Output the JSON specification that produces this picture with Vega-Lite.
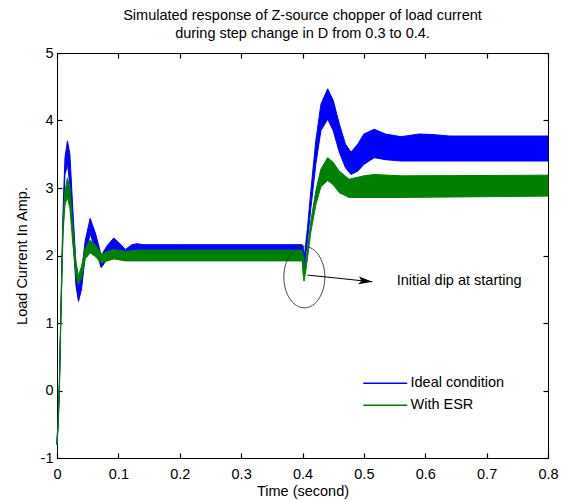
{
  "$schema": "https://vega.github.io/schema/vega-lite/v6.json",
  "autosize": {"type": "none"},
  "padding": {"left": 57, "top": 53, "right": 18, "bottom": 44},
  "width": 491,
  "height": 405,
  "background": "white",
  "title": {
    "text": ["Simulated response of Z-source chopper of load current", "during step change in D from 0.3 to 0.4."],
    "font": "Liberation Sans",
    "fontSize": 14.5,
    "fontWeight": "normal",
    "color": "black",
    "anchor": "middle",
    "lineHeight": 18.3,
    "offset": 3
  },
  "datasets": {
    "current": [
      {"t": 0, "series": "Ideal condition", "lo": -0.80, "hi": -0.74},
      {"t": 0.002, "series": "Ideal condition", "lo": -0.50, "hi": -0.42},
      {"t": 0.004, "series": "Ideal condition", "lo": 0.05, "hi": 0.15},
      {"t": 0.006, "series": "Ideal condition", "lo": 0.95, "hi": 1.05},
      {"t": 0.008, "series": "Ideal condition", "lo": 1.75, "hi": 1.90},
      {"t": 0.010, "series": "Ideal condition", "lo": 2.50, "hi": 2.70},
      {"t": 0.013, "series": "Ideal condition", "lo": 3.20, "hi": 3.45},
      {"t": 0.017, "series": "Ideal condition", "lo": 3.35, "hi": 3.70},
      {"t": 0.021, "series": "Ideal condition", "lo": 3.05, "hi": 3.50},
      {"t": 0.026, "series": "Ideal condition", "lo": 2.25, "hi": 2.65},
      {"t": 0.031, "series": "Ideal condition", "lo": 1.55, "hi": 1.85},
      {"t": 0.035, "series": "Ideal condition", "lo": 1.32, "hi": 1.52},
      {"t": 0.040, "series": "Ideal condition", "lo": 1.50, "hi": 1.75},
      {"t": 0.046, "series": "Ideal condition", "lo": 2.00, "hi": 2.22},
      {"t": 0.054, "series": "Ideal condition", "lo": 2.32, "hi": 2.55},
      {"t": 0.063, "series": "Ideal condition", "lo": 2.08, "hi": 2.32},
      {"t": 0.072, "series": "Ideal condition", "lo": 1.82, "hi": 2.00},
      {"t": 0.082, "series": "Ideal condition", "lo": 1.95, "hi": 2.15},
      {"t": 0.0925, "series": "Ideal condition", "lo": 2.05, "hi": 2.26},
      {"t": 0.102, "series": "Ideal condition", "lo": 2.00, "hi": 2.18},
      {"t": 0.1115, "series": "Ideal condition", "lo": 1.98, "hi": 2.09},
      {"t": 0.122, "series": "Ideal condition", "lo": 1.98, "hi": 2.16},
      {"t": 0.13, "series": "Ideal condition", "lo": 1.98, "hi": 2.175},
      {"t": 0.14, "series": "Ideal condition", "lo": 1.98, "hi": 2.16},
      {"t": 0.2, "series": "Ideal condition", "lo": 1.98, "hi": 2.16},
      {"t": 0.3, "series": "Ideal condition", "lo": 1.98, "hi": 2.16},
      {"t": 0.3995, "series": "Ideal condition", "lo": 1.98, "hi": 2.16},
      {"t": 0.401, "series": "Ideal condition", "lo": 1.85, "hi": 2.14},
      {"t": 0.4025, "series": "Ideal condition", "lo": 1.78, "hi": 1.95},
      {"t": 0.405, "series": "Ideal condition", "lo": 2.00, "hi": 2.15},
      {"t": 0.408, "series": "Ideal condition", "lo": 2.20, "hi": 2.40},
      {"t": 0.4136, "series": "Ideal condition", "lo": 2.70, "hi": 2.96},
      {"t": 0.4217, "series": "Ideal condition", "lo": 3.35, "hi": 3.70},
      {"t": 0.43, "series": "Ideal condition", "lo": 3.85, "hi": 4.24},
      {"t": 0.441, "series": "Ideal condition", "lo": 4.02, "hi": 4.47},
      {"t": 0.45, "series": "Ideal condition", "lo": 3.85, "hi": 4.30},
      {"t": 0.46, "series": "Ideal condition", "lo": 3.53, "hi": 3.95},
      {"t": 0.47, "series": "Ideal condition", "lo": 3.30, "hi": 3.65},
      {"t": 0.479, "series": "Ideal condition", "lo": 3.20, "hi": 3.53},
      {"t": 0.49, "series": "Ideal condition", "lo": 3.25, "hi": 3.65},
      {"t": 0.50, "series": "Ideal condition", "lo": 3.35, "hi": 3.80},
      {"t": 0.517, "series": "Ideal condition", "lo": 3.45, "hi": 3.87},
      {"t": 0.535, "series": "Ideal condition", "lo": 3.42, "hi": 3.80},
      {"t": 0.5605, "series": "Ideal condition", "lo": 3.40, "hi": 3.76},
      {"t": 0.59, "series": "Ideal condition", "lo": 3.40, "hi": 3.80},
      {"t": 0.615, "series": "Ideal condition", "lo": 3.40, "hi": 3.79},
      {"t": 0.64, "series": "Ideal condition", "lo": 3.40, "hi": 3.77},
      {"t": 0.8, "series": "Ideal condition", "lo": 3.40, "hi": 3.77},

      {"t": 0, "series": "With ESR", "lo": -0.80, "hi": -0.72},
      {"t": 0.002, "series": "With ESR", "lo": -0.50, "hi": -0.40},
      {"t": 0.004, "series": "With ESR", "lo": 0.05, "hi": 0.18},
      {"t": 0.006, "series": "With ESR", "lo": 0.95, "hi": 1.08},
      {"t": 0.008, "series": "With ESR", "lo": 1.70, "hi": 1.90},
      {"t": 0.010, "series": "With ESR", "lo": 2.35, "hi": 2.55},
      {"t": 0.013, "series": "With ESR", "lo": 2.75, "hi": 2.95},
      {"t": 0.017, "series": "With ESR", "lo": 2.86, "hi": 3.15},
      {"t": 0.021, "series": "With ESR", "lo": 2.70, "hi": 3.00},
      {"t": 0.026, "series": "With ESR", "lo": 2.15, "hi": 2.40},
      {"t": 0.031, "series": "With ESR", "lo": 1.72, "hi": 1.90},
      {"t": 0.035, "series": "With ESR", "lo": 1.57, "hi": 1.70},
      {"t": 0.040, "series": "With ESR", "lo": 1.68, "hi": 1.84},
      {"t": 0.046, "series": "With ESR", "lo": 1.95, "hi": 2.10},
      {"t": 0.054, "series": "With ESR", "lo": 2.04, "hi": 2.23},
      {"t": 0.063, "series": "With ESR", "lo": 1.98, "hi": 2.15},
      {"t": 0.072, "series": "With ESR", "lo": 1.89, "hi": 2.02},
      {"t": 0.082, "series": "With ESR", "lo": 1.92, "hi": 2.06},
      {"t": 0.0925, "series": "With ESR", "lo": 1.95, "hi": 2.09},
      {"t": 0.1115, "series": "With ESR", "lo": 1.92, "hi": 2.06},
      {"t": 0.13, "series": "With ESR", "lo": 1.92, "hi": 2.08},
      {"t": 0.2, "series": "With ESR", "lo": 1.92, "hi": 2.08},
      {"t": 0.3, "series": "With ESR", "lo": 1.92, "hi": 2.08},
      {"t": 0.3995, "series": "With ESR", "lo": 1.92, "hi": 2.08},
      {"t": 0.401, "series": "With ESR", "lo": 1.72, "hi": 2.00},
      {"t": 0.4025, "series": "With ESR", "lo": 1.62, "hi": 1.75},
      {"t": 0.405, "series": "With ESR", "lo": 1.75, "hi": 1.92},
      {"t": 0.408, "series": "With ESR", "lo": 1.95, "hi": 2.08},
      {"t": 0.4136, "series": "With ESR", "lo": 2.35, "hi": 2.51},
      {"t": 0.4217, "series": "With ESR", "lo": 2.75, "hi": 2.96},
      {"t": 0.43, "series": "With ESR", "lo": 3.02, "hi": 3.28},
      {"t": 0.441, "series": "With ESR", "lo": 3.11, "hi": 3.45},
      {"t": 0.45, "series": "With ESR", "lo": 3.05, "hi": 3.38},
      {"t": 0.46, "series": "With ESR", "lo": 2.93, "hi": 3.25},
      {"t": 0.476, "series": "With ESR", "lo": 2.86, "hi": 3.13},
      {"t": 0.50, "series": "With ESR", "lo": 2.86, "hi": 3.18},
      {"t": 0.517, "series": "With ESR", "lo": 2.86, "hi": 3.20},
      {"t": 0.5605, "series": "With ESR", "lo": 2.86, "hi": 3.18},
      {"t": 0.8, "series": "With ESR", "lo": 2.88, "hi": 3.19}
    ],
    "dip": [{"t": 0.403, "v": 1.68}],
    "arrow": [{"t": 0.408, "v": 1.71, "t2": 0.514, "v2": 1.61}],
    "note": [{"t": 0.5535, "v": 1.627, "label": "Initial dip at starting"}]
  },
  "layer": [
    {
      "data": {"name": "current"},
      "mark": {"type": "area", "interpolate": "linear", "strokeWidth": 1, "fillOpacity": 1},
      "encoding": {
        "x": {
          "field": "t", "type": "quantitative",
          "scale": {"domain": [0, 0.8], "nice": false, "zero": false},
          "axis": {
            "orient": "bottom", "title": "Time (second)",
            "values": [0, 0.1, 0.2, 0.3, 0.4, 0.5, 0.6, 0.7, 0.8],
            "labelExpr": "'' + datum.value",
            "labelFlush": false,
            "ticks": true, "tickColor": "black", "tickWidth": 1.2,
            "tickSize": -5, "labelPadding": 14, "titlePadding": 4
          }
        },
        "y": {
          "field": "lo", "type": "quantitative",
          "scale": {"domain": [-1, 5], "nice": false, "zero": false},
          "axis": {
            "orient": "left", "title": "Load Current In Amp.",
            "values": [-1, 0, 1, 2, 3, 4, 5],
            "labelExpr": "'' + datum.value",
            "labelFlush": false,
            "ticks": true, "tickColor": "black", "tickWidth": 1.2,
            "tickSize": -5, "labelPadding": 9, "titlePadding": 11
          }
        },
        "y2": {"field": "hi"},
        "color": {
          "field": "series", "type": "nominal",
          "scale": {"domain": ["Ideal condition", "With ESR"], "range": ["#0000ff", "#008000"]},
          "legend": {
            "title": null,
            "orient": "none",
            "legendX": 321,
            "legendY": 323,
            "symbolType": "M-4.4,0L4.4,0",
            "symbolSize": 100,
            "symbolStrokeWidth": 1.3,
            "labelOffset": 18,
            "labelFont": "Liberation Sans",
            "labelFontSize": 14.5,
            "labelColor": "black",
            "rowPadding": 7,
            "encode": {
              "symbols": {
                "update": {
                  "stroke": {"scale": "color", "field": "value"},
                  "fill": {"value": "transparent"},
                  "strokeWidth": {"value": 1.3}
                }
              }
            }
          }
        },
        "stroke": {
          "field": "series", "type": "nominal",
          "scale": {"domain": ["Ideal condition", "With ESR"], "range": ["#0000ff", "#008000"]},
          "legend": null
        }
      }
    },
    {
      "data": {"name": "dip"},
      "mark": {
        "type": "point",
        "shape": "M-1,0A1,1.5,0,1,0,1,0A1,1.5,0,1,0,-1,0Z",
        "size": 1681,
        "filled": false,
        "stroke": "#333333",
        "strokeWidth": 0.9,
        "opacity": 1
      },
      "encoding": {
        "x": {"field": "t", "type": "quantitative", "axis": {"orient": "top", "title": null, "labels": false, "domain": false, "ticks": true, "tickColor": "black", "tickWidth": 1.2, "tickSize": -5, "values": [0, 0.1, 0.2, 0.3, 0.4, 0.5, 0.6, 0.7, 0.8]}},
        "y": {"field": "v", "type": "quantitative", "axis": {"orient": "right", "title": null, "labels": false, "domain": false, "ticks": true, "tickColor": "black", "tickWidth": 1.2, "tickSize": -5, "values": [-1, 0, 1, 2, 3, 4, 5]}}
      }
    },
    {
      "data": {"name": "arrow"},
      "mark": {"type": "rule", "color": "black", "strokeWidth": 1},
      "encoding": {
        "x": {"field": "t", "type": "quantitative", "axis": null},
        "y": {"field": "v", "type": "quantitative", "axis": null},
        "x2": {"field": "t2"},
        "y2": {"field": "v2"}
      }
    },
    {
      "data": {"name": "arrow"},
      "mark": {
        "type": "point",
        "shape": "M0,0L-1.4,-0.4L-1.1,0L-1.4,0.4Z",
        "size": 400,
        "filled": true,
        "color": "black",
        "opacity": 1,
        "angle": 6
      },
      "encoding": {
        "x": {"field": "t2", "type": "quantitative", "axis": null},
        "y": {"field": "v2", "type": "quantitative", "axis": null}
      }
    },
    {
      "data": {"name": "note"},
      "mark": {"type": "text", "align": "left", "baseline": "middle", "font": "Liberation Sans", "fontSize": 14.5, "color": "black"},
      "encoding": {
        "x": {"field": "t", "type": "quantitative", "axis": null},
        "y": {"field": "v", "type": "quantitative", "axis": null},
        "text": {"field": "label"}
      }
    }
  ],
  "config": {
    "view": {"stroke": "black", "strokeWidth": 1},
    "axis": {
      "grid": false,
      "domain": false,
      "labelFont": "Liberation Sans",
      "labelFontSize": 14.5,
      "labelColor": "black",
      "titleFont": "Liberation Sans",
      "titleFontSize": 14.5,
      "titleFontWeight": "normal",
      "titleColor": "black"
    }
  }
}
